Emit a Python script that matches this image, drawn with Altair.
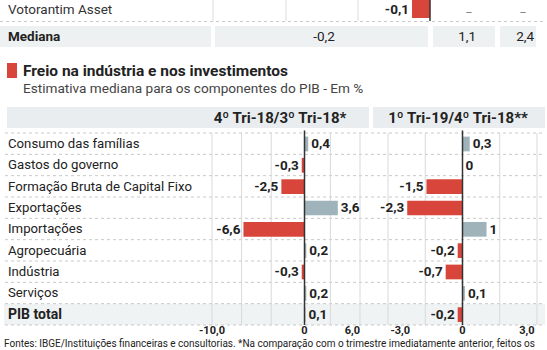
import altair as alt
import pandas as pd
import numpy as np

# ---------------- data ----------------
categories = ["Consumo das famílias", "Gastos do governo", "Formação Bruta de Capital Fixo",
              "Exportações", "Importações", "Agropecuária", "Indústria", "Serviços", "PIB total"]
q4_18_vs_q3_18 = [0.4, -0.3, -2.5, 3.6, -6.6, 0.2, -0.3, 0.2, 0.1]
q1_19_vs_q4_18 = [0.3, 0.0, -1.5, -2.3, 1.0, -0.2, -0.7, 0.1, -0.2]
panel_titles = ["4º Tri-18/3º Tri-18*", "1º Tri-19/4º Tri-18**"]
left_ticks = [-10, 0, 6]
left_tick_labels = ["-10,0", "0", "6,0"]
right_ticks = [-3, 0, 3]
right_tick_labels = ["-3,0", "0", "3,0"]
top_row_names = ["Votorantim Asset", "Mediana"]
votorantim_value = -0.1
mediana_values = [-0.2, 1.1, 2.4]
title_text = "Freio na indústria e nos investimentos"
subtitle_text = "Estimativa mediana para os componentes do PIB - Em %"
footer_text = ("Fontes: IBGE/Instituições financeiras e consultorias. *Na comparação com o "
               "trimestre imediatamente anterior, feitos os")

# ---------------- style ----------------
RED = "#d8463b"
BLUE = "#9fb4ba"
TXT = "#222222"
FONT = "Roboto"
GRID = "#d9d9d9"
BAND = "#e9edef"


def br(v):
    return f"{v:g}".replace(".", ",")


one = pd.DataFrame({"a": [0]})
n = len(categories)
base_df = pd.DataFrame({"cat": categories, "idx": list(range(n))})
YS = alt.Scale(domain=[0, n], range=[133, 325], nice=False, zero=False)


def panel(values, domain, rng, ticks, tick_labels, grid_n, tick_aligns):
    df = base_df.copy()
    df["v"] = values
    df["lab"] = [br(v) for v in values]
    XS = alt.Scale(domain=domain, range=rng, nice=False, zero=False)
    base = alt.Chart(df).transform_calculate(
        y0="datum.idx + 0.17", y1="datum.idx + 0.86", ym="datum.idx + 0.53")
    span = domain[1] - domain[0]
    gv = [g for g in np.linspace(domain[0], domain[1], grid_n) if abs(g) > 0.05 * span]
    grid = alt.Chart(pd.DataFrame({"g": gv, "top": 0, "bot": n})).mark_rule(
        color=GRID, strokeWidth=1).encode(
        x=alt.X("g:Q", scale=XS, axis=None),
        y=alt.Y("top:Q", scale=YS, axis=None), y2="bot:Q")
    bars = base.mark_bar().encode(
        x=alt.X("v:Q", scale=XS, axis=None), x2=alt.datum(0),
        y=alt.Y("y0:Q", scale=YS, axis=None), y2="y1:Q",
        color=alt.condition("datum.v < 0", alt.value(RED), alt.value(BLUE)))
    zero = alt.Chart(pd.DataFrame({"z": [0], "top": [-0.12], "bot": [n]})).mark_rule(
        color="#333333", strokeWidth=1.5).encode(
        x=alt.X("z:Q", scale=XS, axis=None),
        y=alt.Y("top:Q", scale=YS, axis=None), y2="bot:Q")
    pos = base.transform_filter("datum.v >= 0").mark_text(
        align="left", dx=3, baseline="middle", fontWeight="bold", fontSize=13.5,
        font=FONT, color=TXT).encode(
        x=alt.X("v:Q", scale=XS, axis=None),
        y=alt.Y("ym:Q", scale=YS, axis=None), text="lab:N")
    neg = base.transform_filter("datum.v < 0").mark_text(
        align="right", dx=-3, baseline="middle", fontWeight="bold", fontSize=13.5,
        font=FONT, color=TXT).encode(
        x=alt.X("v:Q", scale=XS, axis=None),
        y=alt.Y("ym:Q", scale=YS, axis=None), text="lab:N")
    tick_layers = []
    for t, l, a in zip(ticks, tick_labels, tick_aligns):
        tick_layers.append(
            alt.Chart(pd.DataFrame({"t": [t], "lab": [l]})).mark_text(
                align=a, baseline="middle", fontWeight="bold", fontSize=11,
                font=FONT, color=TXT).encode(
                x=alt.X("t:Q", scale=XS, axis=None), y=alt.value(331), text="lab:N"))
    return alt.layer(grid, bars, zero, pos, neg, *tick_layers)


left = panel(q4_18_vs_q3_18, [-10, 6], [212, 360], left_ticks, left_tick_labels, 6,
             ["center", "center", "right"])
right = panel(q1_19_vs_q4_18, [-3.1, 3.1], [388, 537], right_ticks, right_tick_labels, 5,
              ["left", "center", "right"])


def rect(x, x2, y, y2, color):
    return alt.Chart(one).mark_rect(color=color).encode(
        x=alt.value(x), x2=alt.value(x2), y=alt.value(y), y2=alt.value(y2))


def text(t, x, y, size=13, weight="normal", align="left", color=TXT):
    return alt.Chart(pd.DataFrame({"t": [t]})).mark_text(
        align=align, baseline="middle", fontSize=size, fontWeight=weight,
        font=FONT, color=color).encode(x=alt.value(x), y=alt.value(y), text="t:N")


# header bands and PIB background
backgrounds = [
    rect(7, 369, 107, 128, BAND),
    rect(373, 545, 107, 128, BAND),
    rect(0, 211, 26, 47, "#eef1f2"),
    rect(215, 428, 26, 47, "#eef1f2"),
    rect(433, 495, 26, 47, "#eef1f2"),
    rect(500, 536, 26, 47, "#eef1f2"),
]
pib_bg = alt.Chart(base_df).transform_filter("datum.cat == 'PIB total'").transform_calculate(
    y1="datum.idx + 1").mark_rect(color="#f0f3f4").encode(
    x=alt.value(4), x2=alt.value(545),
    y=alt.Y("idx:Q", scale=YS, axis=None), y2="y1:Q")

separators = alt.Chart(pd.DataFrame({"s": list(range(n + 1))})).mark_rule(
    color="#c9c9c9", strokeDash=[3, 3], strokeWidth=1).encode(
    x=alt.value(5), x2=alt.value(545), y=alt.Y("s:Q", scale=YS, axis=None))

label_base = alt.Chart(base_df).transform_calculate(ym="datum.idx + 0.52")
labels = label_base.transform_filter("datum.cat != 'PIB total'").mark_text(
    align="left", baseline="middle", fontSize=13.2, font=FONT, color=TXT).encode(
    x=alt.value(8), y=alt.Y("ym:Q", scale=YS, axis=None), text="cat:N")
labels_bold = label_base.transform_filter("datum.cat == 'PIB total'").mark_text(
    align="left", baseline="middle", fontSize=14, fontWeight="bold", font=FONT,
    color=TXT).encode(x=alt.value(8), y=alt.Y("ym:Q", scale=YS, axis=None), text="cat:N")

headers = [text(panel_titles[0], 280, 118, 15, "bold", "center"),
           text(panel_titles[1], 458, 118, 15, "bold", "center")]

# top (cropped) table
TS = alt.Scale(domain=[-0.5, 0], range=[340, 430], nice=False, zero=False)
top_bar = alt.Chart(pd.DataFrame({"v": [votorantim_value]})).mark_bar(color=RED).encode(
    x=alt.X("v:Q", scale=TS, axis=None), x2=alt.datum(0),
    y=alt.value(0), y2=alt.value(18))
top_rules = alt.Chart(pd.DataFrame({"xx": [213, 286, 358]})).mark_rule(
    color="#dddddd").encode(x=alt.X("xx:Q", scale=None), y=alt.value(0), y2=alt.value(21))
top_zero = alt.Chart(pd.DataFrame({"z": [0]})).mark_rule(color="#333333", strokeWidth=1.5).encode(
    x=alt.X("z:Q", scale=TS, axis=None), y=alt.value(0), y2=alt.value(21))
top_sep = alt.Chart(one).mark_rule(color="#c9c9c9", strokeDash=[3, 3]).encode(
    x=alt.value(0), x2=alt.value(545), y=alt.value(21.5))
top_texts = [
    text(top_row_names[0], 8, 10, 13.5, color="#333333"),
    text(br(votorantim_value), 409, 10, 13.5, "bold", "right"),
    text("_", 469, 8, 12, color="#888888", align="center"),
    text("_", 523, 8, 12, color="#888888", align="center"),
    text(top_row_names[1], 8, 36.5, 13.5, "bold"),
    text(br(mediana_values[0]), 324, 36.5, 13.5, align="center"),
    text(br(mediana_values[1]), 476, 36.5, 13.5, align="right"),
    text(br(mediana_values[2]), 534, 36.5, 13.5, align="right"),
]

titles = [
    rect(7, 17, 63, 78, RED),
    text(title_text, 23, 71, 15.5, "bold"),
    text(subtitle_text, 23, 88.5, 13.6, color="#444444"),
    text(footer_text, 4, 344, 10, color=TXT),
]

chart = alt.layer(
    *backgrounds, pib_bg, separators, top_sep, top_rules, top_bar, top_zero,
    left, right, labels, labels_bold, *headers, *top_texts, *titles
).resolve_scale(x="independent").properties(
    width=547, height=350, autosize=alt.AutoSizeParams(type="none"), padding=0,
    background="white"
).configure_view(stroke=None)

chart.save("out.html", embed_options={"renderer": "svg", "actions": False})
